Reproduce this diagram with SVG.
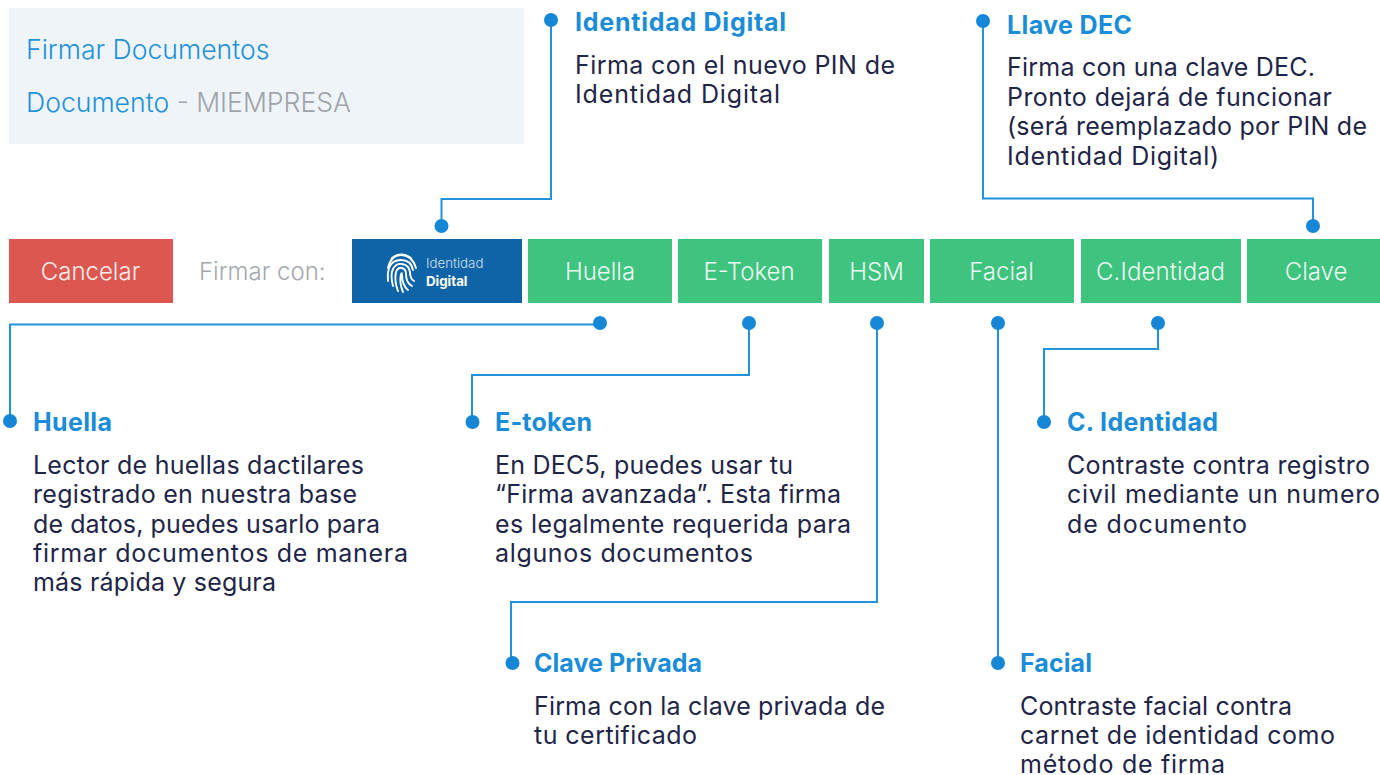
<svg xmlns="http://www.w3.org/2000/svg" width="1380" height="775" viewBox="0 0 1380 775">
<style>
.ui{font-family:Inter,"Liberation Sans",sans-serif;font-weight:300;font-size:24px}
.btn{fill:#fff;opacity:.9;text-anchor:middle}
.hd{font-size:26.6px}
.h{font-family:Inter,"Liberation Sans",sans-serif;font-weight:700;font-size:25px;fill:#1a8cd8}
.d{font-family:Inter,"Liberation Sans",sans-serif;font-weight:400;font-size:25px;fill:#1f2547}
.g{fill:#3ec47e}
.c{fill:none;stroke:#2292dc;stroke-width:2}
.dot{fill:#1587d6}
.fp{fill:none;stroke:#fff;stroke-width:1.9;stroke-linecap:round}
</style>
<g id="header"><rect x="9" y="8" width="515" height="136" fill="#eff4f9"/>
<text class="ui hd" x="26" y="59" fill="#2391d8">Firmar Documentos</text>
<text class="ui hd" x="26" y="112" fill="#2391d8">Documento <tspan fill="#9ea4a9">- MIEMPRESA</tspan></text></g>
<g id="connectors">
<path class="c" d="M551 20V199H441.500V226"/><path class="c" d="M983 21V198.500H1313V226"/>
<path class="c" d="M600 324.500H10V421"/><path class="c" d="M749 324V375H472V422"/>
<path class="c" d="M877 324V602H511V663"/><path class="c" d="M998 324V663"/>
<path class="c" d="M1158 324V349H1044V422"/>
<g class="dot"><circle cx="551" cy="20" r="7"/><circle cx="983" cy="21" r="7"/><circle cx="441.500" cy="226" r="7"/><circle cx="1313" cy="226" r="7"/><circle cx="600" cy="323" r="7"/><circle cx="749" cy="323" r="7"/><circle cx="877" cy="323" r="7"/><circle cx="998" cy="323" r="7"/><circle cx="1158" cy="323" r="7"/><circle cx="10" cy="421" r="7"/><circle cx="472.500" cy="422" r="7"/><circle cx="1044" cy="422" r="7"/><circle cx="512.500" cy="663" r="7"/><circle cx="998" cy="663" r="7"/></g>
</g>
<g id="cancelar"><rect x="9" y="239" width="164" height="64" fill="#dc574f"/><text class="ui btn" x="90.500" y="280">Cancelar</text></g>
<text id="firmar" class="ui" x="199" y="280" fill="#a3a8ad">Firmar con:</text>
<g id="identidad"><rect x="352" y="239" width="170" height="64" fill="#0e64a6"/>
<g class="fp"><path d="M392 258Q401 251 411 258"/><path d="M388 268Q391 255 401 255Q412 255 416 268"/><path d="M388 281Q387 274 389 268Q392 260 401 260Q411 260 413 270"/><path d="M393 286Q390 275 393 269Q396 263 402 264Q409 265 410 272Q410 279 414 281"/><path d="M398 291Q394 281 396 272Q398 267 402 268Q406 269 406 274Q406 283 412 286"/><path d="M403 292Q399 283 401 274Q402 272 402 275Q402 285 408 290"/></g>
<text x="426" y="268" style="font-family:Inter,sans-serif;font-size:13.300px;font-weight:300" fill="#cfe0ee">Identidad</text>
<text x="426" y="286" style="font-family:Inter,sans-serif;font-size:13.300px;font-weight:700" fill="#fff">Digital</text></g>
<g id="huella"><rect class="g" x="528" y="239" width="144" height="64"/><text class="ui btn" x="600" y="280">Huella</text></g>
<g id="etoken"><rect class="g" x="678" y="239" width="144" height="64"/><text class="ui btn" x="749" y="280">E-Token</text></g>
<g id="hsm"><rect class="g" x="829" y="239" width="95" height="64"/><text class="ui btn" x="876.500" y="280">HSM</text></g>
<g id="facial"><rect class="g" x="930" y="239" width="144" height="64"/><text class="ui btn" x="1001.500" y="280">Facial</text></g>
<g id="cidentidad"><rect class="g" x="1081" y="239" width="160" height="64"/><text class="ui btn" x="1160.500" y="280" textLength="129">C.Identidad</text></g>
<g id="clave"><rect class="g" x="1247" y="239" width="133" height="64"/><text class="ui btn" x="1316" y="280">Clave</text></g>
<g id="n-id"><text class="h" x="575" y="31" textLength="211">Identidad Digital</text>
<text class="d" x="575" y="74" textLength="320">Firma con el nuevo PIN de</text><text class="d" x="575" y="103" textLength="205">Identidad Digital</text></g>
<g id="n-dec"><text class="h" x="1007" y="34" textLength="125">Llave DEC</text>
<text class="d" x="1007" y="76" textLength="308">Firma con una clave DEC.</text><text class="d" x="1007" y="106" textLength="325">Pronto dejará de funcionar</text><text class="d" x="1007" y="135" textLength="360">(será reemplazado por PIN de</text><text class="d" x="1007" y="165" textLength="212">Identidad Digital)</text></g>
<g id="n-huella"><text class="h" x="33" y="431" textLength="79">Huella</text>
<text class="d" x="33" y="474" textLength="331">Lector de huellas dactilares</text><text class="d" x="33" y="503" textLength="324">registrado en nuestra base</text><text class="d" x="33" y="533" textLength="347">de datos, puedes usarlo para</text><text class="d" x="33" y="562" textLength="375">firmar documentos de manera</text><text class="d" x="33" y="591" textLength="243">más rápida y segura</text></g>
<g id="n-etoken"><text class="h" x="495" y="431" textLength="97">E-token</text>
<text class="d" x="495" y="474" textLength="298">En DEC5, puedes usar tu</text><text class="d" x="495" y="503" textLength="346">“Firma avanzada”. Esta firma</text><text class="d" x="495" y="533" textLength="356">es legalmente requerida para</text><text class="d" x="495" y="562" textLength="258">algunos documentos</text></g>
<g id="n-cid"><text class="h" x="1067" y="431" textLength="151">C. Identidad</text>
<text class="d" x="1067" y="474" textLength="303">Contraste contra registro</text><text class="d" x="1067" y="503" textLength="313">civil mediante un numero</text><text class="d" x="1067" y="533" textLength="180">de documento</text></g>
<g id="n-priv"><text class="h" x="534" y="672" textLength="168">Clave Privada</text>
<text class="d" x="534" y="715" textLength="351">Firma con la clave privada de</text><text class="d" x="534" y="744" textLength="163">tu certificado</text></g>
<g id="n-facial"><text class="h" x="1020" y="672" textLength="72">Facial</text>
<text class="d" x="1020" y="715" textLength="272">Contraste facial contra</text><text class="d" x="1020" y="744" textLength="315">carnet de identidad como</text><text class="d" x="1020" y="773" textLength="205">método de firma</text></g>
</svg>
